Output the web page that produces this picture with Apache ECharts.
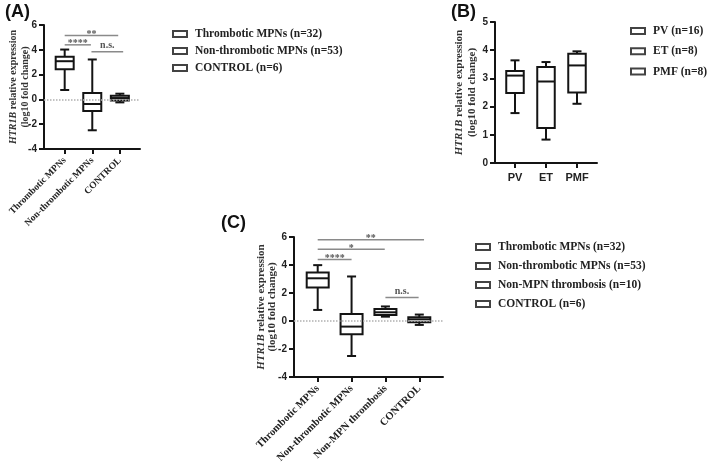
<!DOCTYPE html>
<html>
<head>
<meta charset="utf-8">
<script src="https://cdn.jsdelivr.net/npm/echarts@6/dist/echarts.min.js"></script>
<style>html,body{margin:0;padding:0;background:#fff;}#c{width:709px;height:470px;}</style>
</head>
<body>
<div id="c"></div>
<script>
// ---- data ----
const catsA = ['Thrombotic MPNs', 'Non-thrombotic MPNs', 'CONTROL'];
const boxA = [[0.76, 2.44, 3.08, 3.43, 4.02], [-2.49, -0.93, -0.37, 0.51, 3.22], [-0.24, -0.08, 0.11, 0.30, 0.46]];
const legendA = ['Thrombotic MPNs (n=32)', 'Non-thrombotic MPNs (n=53)', 'CONTROL (n=6)'];
const sigA = [[0, 1.94, 5.15], [0, 0.95, 4.4], [0.97, 2.12, 3.84]];
const sigLabelsA = ['**', '****', 'n.s.'];

const catsB = ['PV', 'ET', 'PMF'];
const boxB = [[1.77, 2.48, 3.10, 3.26, 3.64], [0.83, 1.24, 2.89, 3.40, 3.58], [2.10, 2.50, 3.46, 3.87, 3.96]];
const legendB = ['PV (n=16)', 'ET (n=8)', 'PMF (n=8)'];

const catsC = ['Thrombotic MPNs', 'Non-thrombotic MPNs', 'Non-MPN thrombosis', 'CONTROL'];
const boxC = [[0.79, 2.39, 3.05, 3.46, 3.99], [-2.50, -0.95, -0.40, 0.50, 3.18], [0.31, 0.42, 0.62, 0.86, 1.04], [-0.28, -0.09, 0.12, 0.26, 0.46]];
const legendC = ['Thrombotic MPNs (n=32)', 'Non-thrombotic MPNs (n=53)', 'Non-MPN thrombosis (n=10)', 'CONTROL (n=6)'];
const sigC = [[0, 3.14, 5.8], [0, 1.98, 5.13], [0, 1.0, 4.4], [2.0, 2.98, 1.67]];
const sigLabelsC = ['**', '*', '****', 'n.s.'];

const yTitle = '{i|HTR1B} relative expression\n(log10 fold change)';
// ---- styling ----
const SERIF = 'Liberation Serif';
const SANS = 'Liberation Sans';
const INK = '#141414';

function boxRender(boxW, capW) {
  return function (params, api) {
    const x = api.value(0);
    const pMin = api.coord([x, api.value(1)]);
    const pQ1 = api.coord([x, api.value(2)]);
    const pMed = api.coord([x, api.value(3)]);
    const pQ3 = api.coord([x, api.value(4)]);
    const pMax = api.coord([x, api.value(5)]);
    const h = boxW / 2, c = capW / 2;
    const st = {stroke: INK, lineWidth: 2, fill: null};
    return {type: 'group', children: [
      {type: 'line', shape: {x1: pMin[0], y1: pMin[1], x2: pMax[0], y2: pMax[1]}, style: st},
      {type: 'line', shape: {x1: pMin[0] - c, y1: pMin[1], x2: pMin[0] + c, y2: pMin[1]}, style: st},
      {type: 'line', shape: {x1: pMax[0] - c, y1: pMax[1], x2: pMax[0] + c, y2: pMax[1]}, style: st},
      {type: 'rect', shape: {x: pQ3[0] - h, y: pQ3[1], width: boxW, height: pQ1[1] - pQ3[1]}, style: {stroke: INK, lineWidth: 2, fill: '#fff'}},
      {type: 'line', shape: {x1: pMed[0] - h, y1: pMed[1], x2: pMed[0] + h, y2: pMed[1]}, style: st}
    ]};
  };
}
function sigRender(labels) {
  return function (params, api) {
    const a = api.coord([api.value(0), api.value(2)]);
    const b = api.coord([api.value(1), api.value(2)]);
    const lab = labels[params.dataIndex];
    const isStar = lab.indexOf('*') === 0;
    return {type: 'group', children: [
      {type: 'line', shape: {x1: a[0], y1: a[1], x2: b[0], y2: b[1]}, style: {stroke: '#8a8a8a', lineWidth: 1.5}},
      {type: 'text', style: {text: lab, x: (a[0] + b[0]) / 2, y: a[1] + (isStar ? 4 : -1), align: 'center', verticalAlign: 'bottom',
        fill: '#555', font: 'bold 10px "' + SERIF + '"'}}
    ]};
  };
}
function xAxisCfg(gi, cats, min, max, rot, sans, fs) {
  const vals = cats.map((c, i) => i);
  return {
    type: 'value', gridIndex: gi, min: min, max: max, splitLine: {show: false},
    axisLine: {show: true, onZero: false, lineStyle: {color: INK, width: 2}},
    axisTick: {show: true, customValues: vals, length: 5, lineStyle: {color: INK, width: 2}},
    axisLabel: {show: true, customValues: vals, rotate: rot, margin: rot ? 10 : 9,
      formatter: v => cats[Math.round(v)],
      fontFamily: sans ? SANS : SERIF, fontWeight: 'bold', fontSize: fs, color: '#222'}
  };
}
function yAxisCfg(gi, min, max, interval, fs, lh, gap) {
  return {
    type: 'value', gridIndex: gi, min: min, max: max, interval: interval, splitLine: {show: false},
    axisLine: {show: true, onZero: false, lineStyle: {color: INK, width: 2}},
    axisTick: {show: true, length: 5, lineStyle: {color: INK, width: 2}},
    axisLabel: {margin: 7, fontFamily: SANS, fontWeight: 'bold', fontSize: 10, color: '#222'},
    name: yTitle, nameLocation: 'middle', nameRotate: 90, nameGap: gap, nameMoveOverlap: false,
    nameTextStyle: {fontFamily: SERIF, fontWeight: 'bold', fontSize: fs, lineHeight: lh, color: '#333',
      rich: {i: {fontFamily: SERIF, fontWeight: 'bold', fontStyle: 'italic', fontSize: fs, lineHeight: lh, color: '#333'}}}
  };
}
const zeroLine = {silent: true, symbol: 'none', label: {show: false},
  lineStyle: {type: 'dotted', color: '#b0b0b0', width: 1.5}, data: [{yAxis: 0}]};

function legendCfg(names, left, top, gap) {
  return {orient: 'vertical', left: left, top: top, itemGap: gap, padding: 0, selectedMode: false,
    icon: 'rect', itemWidth: 14, itemHeight: 6,
    itemStyle: {color: '#fff', borderColor: INK, borderWidth: 2},
    textStyle: {fontFamily: SERIF, fontWeight: 'bold', fontSize: 11.5, lineHeight: 14, color: '#222', padding: [0, 0, 0, 3]},
    data: names};
}

const series = [];
function addPanel(gi, box, sig, sigLabels, boxW, capW, withZero) {
  if (sig) {
    const s = {type: 'custom', xAxisIndex: gi, yAxisIndex: gi, z: 2, silent: true,
      renderItem: sigRender(sigLabels), data: sig, clip: false};
    if (withZero) s.markLine = zeroLine;
    series.push(s);
  }
  series.push({type: 'custom', xAxisIndex: gi, yAxisIndex: gi, z: 3, silent: true,
    renderItem: boxRender(boxW, capW), data: box.map((b, i) => [i].concat(b))});
}
addPanel(0, boxA, sigA, sigLabelsA, 18, 9, true);
addPanel(1, boxB, null, null, 17.5, 9, false);
addPanel(2, boxC, sigC, sigLabelsC, 22, 9, true);
legendA.forEach(n => series.push({type: 'scatter', name: n, xAxisIndex: 0, yAxisIndex: 0, data: []}));
legendB.forEach(n => series.push({type: 'scatter', name: n, xAxisIndex: 1, yAxisIndex: 1, data: []}));
legendC.forEach(n => series.push({type: 'scatter', name: n, xAxisIndex: 2, yAxisIndex: 2, data: []}));

const option = {
  animation: false,
  backgroundColor: '#fff',
  title: [
    {text: '(A)', left: 5, top: 3, padding: 0, textStyle: {fontFamily: SANS, fontWeight: 'bold', fontSize: 18, color: '#111'}},
    {text: '(B)', left: 451, top: 3, padding: 0, textStyle: {fontFamily: SANS, fontWeight: 'bold', fontSize: 18, color: '#111'}},
    {text: '(C)', left: 221, top: 214, padding: 0, textStyle: {fontFamily: SANS, fontWeight: 'bold', fontSize: 18, color: '#111'}}
  ],
  legend: [legendCfg(legendA, 172, 27, 3), legendCfg(legendB, 630, 24, 6.3), legendCfg(legendC, 475, 240, 5)],
  grid: [
    {left: 44, top: 25, width: 96, height: 124},
    {left: 495, top: 22, width: 102, height: 141},
    {left: 294, top: 237, width: 149, height: 140}
  ],
  xAxis: [
    xAxisCfg(0, catsA, -0.75, 2.73, 45, false, 9.5),
    xAxisCfg(1, catsB, -0.645, 2.645, 0, true, 11),
    xAxisCfg(2, catsC, -0.70, 3.70, 45, false, 10.5)
  ],
  yAxis: [
    yAxisCfg(0, -4, 6, 2, 10, 12, 12.5),
    yAxisCfg(1, 0, 5, 1, 11, 13.5, 16),
    yAxisCfg(2, -4, 6, 2, 11, 11.5, 16)
  ],
  series: series
};
const chart = echarts.init(document.getElementById('c'), null, {renderer: 'canvas'});
chart.setOption(option);
</script>
</body>
</html>
